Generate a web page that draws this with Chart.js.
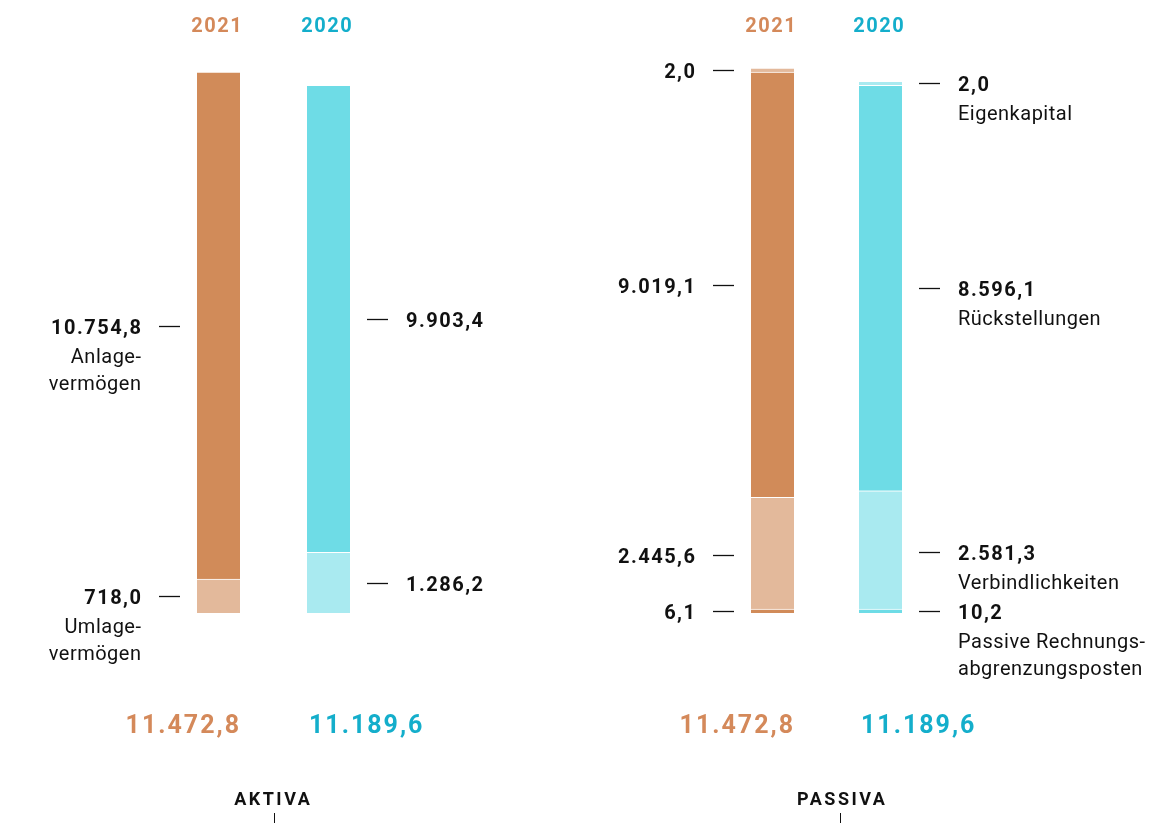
<!DOCTYPE html>
<html lang="de">
<head>
<meta charset="utf-8">
<title>Bilanz 2021 / 2020</title>
<script src="https://cdn.jsdelivr.net/npm/chart.js@4.4.1/dist/chart.umd.min.js"></script>
<style>
  html, body { margin: 0; padding: 0; background: #fff; }
  .wrap { position: relative; width: 1170px; height: 823px; overflow: hidden; }
  canvas { position: absolute; top: 0; }
  #aktiva { left: 0; }
  #passiva { left: 585px; }
</style>
</head>
<body>
<div class="wrap">
  <canvas id="aktiva" width="585" height="823"></canvas>
  <canvas id="passiva" width="585" height="823"></canvas>
</div>
<script>
// Bilanz in Mio. EUR, ein Balken je Jahr
const years = ['2021', '2020'];

// Aktiva, von unten nach oben
const umlagevermoegen = [718.0, 1286.2];
const anlagevermoegen = [10754.8, 9903.4];

// Passiva, von unten nach oben
const rechnungsabgrenzung = [6.1, 10.2];
const verbindlichkeiten = [2445.6, 2581.3];
const rueckstellungen = [9019.1, 8596.1];
const eigenkapital = [2.0, 2.0];

const orange = { dark: '#d18b59', light: '#e3b99b', text: '#d4895a' };
const cyan = { dark: '#6edce6', light: '#a9eaf0', text: '#14aecb' };
const yearColors = [orange, cyan];
const FONT = 'Roboto, "Open Sans", sans-serif';
const INK = '#111';

// 11472.8 -> "11.472,8"
function fmt(v) {
  const [int, dec] = v.toFixed(1).split('.');
  return int.replace(/\B(?=(\d{3})+(?!\d))/g, '.') + ',' + dec;
}

const sumOf = (...series) => series[0].map((_, i) => series.reduce((s, a) => s + a[i], 0));
const totalAktiva = sumOf(umlagevermoegen, anlagevermoegen);
const totalPassiva = sumOf(rechnungsabgrenzung, verbindlichkeiten, rueckstellungen, eigenkapital);
const yMax = Math.max(...totalAktiva, ...totalPassiva);

// Segmente als schwebende Balken [von, bis], damit die Mindesthöhe
// kleiner Posten (2,0 / 6,1 / 10,2) den Stapel nicht verschiebt
function segments(parts) {
  const running = years.map(() => 0);
  return parts.map(p => {
    const data = p.values.map((v, j) => {
      const from = running[j];
      running[j] += v;
      return [from, running[j]];
    });
    return {
      label: p.label,
      lines: p.lines,
      values: p.values,
      data,
      backgroundColor: yearColors.map(c => c[p.shade]),
      borderColor: '#fff',
      borderWidth: { top: 1, right: 0, bottom: 0, left: 0 },
      borderSkipped: false,
      barThickness: 43,
      minBarLength: 4,
      clip: false
    };
  });
}

function drawText(ctx, text, x, y, font, align, spacing, color) {
  ctx.font = font;
  ctx.fillStyle = color;
  ctx.letterSpacing = spacing + 'px';
  ctx.textAlign = align;
  ctx.textBaseline = 'alphabetic';
  // canvas adds the spacing after the last glyph too
  let dx = 0;
  if (align === 'right') dx = spacing;
  else if (align === 'center') dx = spacing / 2;
  ctx.fillText(text, x + dx, y);
}

// Jahreszahlen, Werte mit Strich, Bezeichnungen, Summen und Titel
const bilanzLabels = {
  id: 'bilanzLabels',
  afterDatasetsDraw(chart, args, opts) {
    const ctx = chart.ctx;
    ctx.save();

    const bars = chart.getDatasetMeta(0).data;
    bars.forEach((bar, j) => {
      const { x, width } = bar.getProps(['x', 'width'], true);
      const c = yearColors[j];
      drawText(ctx, years[j], x - 2, 32, `bold 20px ${FONT}`, 'center', 1.5, c.text);

      const total = fmt(opts.totals[j]);
      if (j === 0) {
        drawText(ctx, total, x + width / 2 - 1, 733, `bold 25px ${FONT}`, 'right', 2, c.text);
      } else {
        drawText(ctx, total, x - width / 2 + 2, 733, `bold 25px ${FONT}`, 'left', 2, c.text);
      }
    });

    chart.data.datasets.forEach((ds, i) => {
      const meta = chart.getDatasetMeta(i);
      meta.data.forEach((bar, j) => {
        const { x, y, base, width } = bar.getProps(['x', 'y', 'base', 'width'], true);
        const mid = (y + base) / 2;
        const left = j === 0;
        const dir = left ? -1 : 1;
        const edge = x + dir * width / 2;
        const x0 = edge + dir * 17;
        const x1 = x0 + dir * 21;
        const ly = Math.round(mid) + 0.5;

        ctx.strokeStyle = INK;
        ctx.lineWidth = 1.3;
        ctx.beginPath();
        ctx.moveTo(x0, ly);
        ctx.lineTo(x1, ly);
        ctx.stroke();

        const tx = x1 + dir * 18;
        const align = left ? 'right' : 'left';
        const vy = mid + 8;
        drawText(ctx, fmt(ds.values[j]), tx, vy, `bold 20px ${FONT}`, align, 1.5, INK);
        if (j === opts.namesOn) {
          ds.lines.forEach((line, k) => {
            drawText(ctx, line, tx, vy + 29 + k * 27, `20px ${FONT}`, align, 0.5, INK);
          });
        }
      });
    });

    drawText(ctx, opts.title, opts.titleX, 805, `bold 18px ${FONT}`, 'center', 2.5, INK);
    ctx.strokeStyle = INK;
    ctx.lineWidth = 1;
    ctx.beginPath();
    ctx.moveTo(opts.tickX + 0.5, 813);
    ctx.lineTo(opts.tickX + 0.5, 823);
    ctx.stroke();

    ctx.restore();
  }
};

function panelOptions(padLeft, padRight, labelOpts) {
  return {
    responsive: false,
    animation: false,
    events: [],
    layout: { padding: { top: 72, bottom: 210, left: padLeft, right: padRight } },
    scales: {
      x: { display: false, stacked: true },
      y: { display: false, min: 0, max: yMax }
    },
    plugins: {
      legend: { display: false },
      tooltip: { enabled: false },
      bilanzLabels: labelOpts
    }
  };
}

new Chart(document.getElementById('aktiva'), {
  type: 'bar',
  data: {
    labels: years,
    datasets: segments([
      { label: 'Umlagevermögen', lines: ['Umlage-', 'vermögen'], values: umlagevermoegen, shade: 'light' },
      { label: 'Anlagevermögen', lines: ['Anlage-', 'vermögen'], values: anlagevermoegen, shade: 'dark' }
    ])
  },
  options: panelOptions(163.5, 201.5, {
    namesOn: 0, totals: totalAktiva, title: 'AKTIVA', titleX: 272, tickX: 274
  }),
  plugins: [bilanzLabels]
});

new Chart(document.getElementById('passiva'), {
  type: 'bar',
  data: {
    labels: years,
    datasets: segments([
      { label: 'Passive Rechnungsabgrenzungsposten', lines: ['Passive Rechnungs-', 'abgrenzungsposten'], values: rechnungsabgrenzung, shade: 'dark' },
      { label: 'Verbindlichkeiten', lines: ['Verbindlichkeiten'], values: verbindlichkeiten, shade: 'light' },
      { label: 'Rückstellungen', lines: ['Rückstellungen'], values: rueckstellungen, shade: 'dark' },
      { label: 'Eigenkapital', lines: ['Eigenkapital'], values: eigenkapital, shade: 'light' }
    ])
  },
  options: panelOptions(133.5, 235.5, {
    namesOn: 1, totals: totalPassiva, title: 'PASSIVA', titleX: 256, tickX: 255
  }),
  plugins: [bilanzLabels]
});
</script>
</body>
</html>
